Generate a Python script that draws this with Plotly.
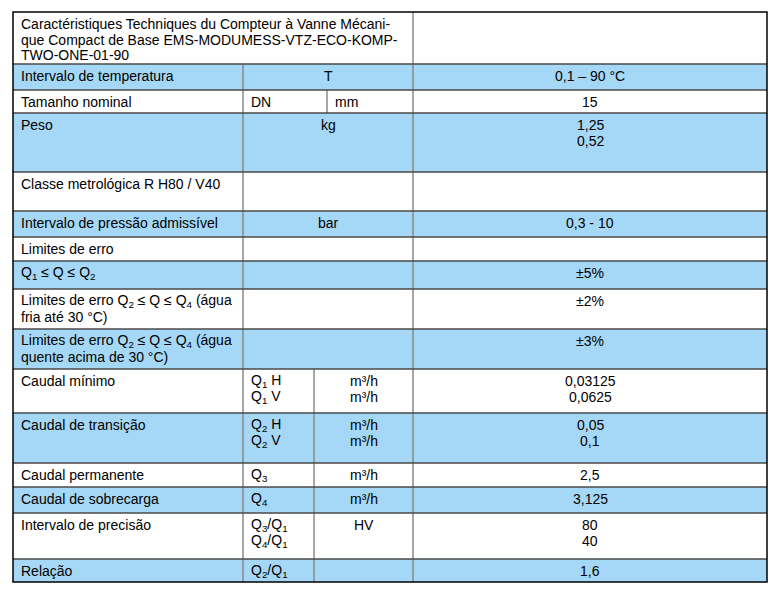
import plotly.graph_objects as go

# ---------------- data ----------------
title_lines = [
    "Caractéristiques Techniques du Compteur à Vanne Mécani-",
    "que Compact de Base EMS-MODUMESS-VTZ-ECO-KOMP-",
    "TWO-ONE-01-90",
]
row_labels = [
    ["Intervalo de temperatura"],
    ["Tamanho nominal"],
    ["Peso"],
    ["Classe metrológica R H80 / V40"],
    ["Intervalo de pressão admissível"],
    ["Limites de erro"],
    ["Q<sub>1</sub> ≤ Q ≤ Q<sub>2</sub>"],
    ["Limites de erro Q<sub>2</sub> ≤ Q ≤ Q<sub>4</sub> (água", "fria até 30 °C)"],
    ["Limites de erro Q<sub>2</sub> ≤ Q ≤ Q<sub>4</sub> (água", "quente acima de 30 °C)"],
    ["Caudal mínimo"],
    ["Caudal de transição"],
    ["Caudal permanente"],
    ["Caudal de sobrecarga"],
    ["Intervalo de precisão"],
    ["Relação"],
]
# middle column kind: "span" = merged unit cell, "dn" = DN|mm split, "q" = symbol|unit split
mid_kind = ["span", "dn", "span", "span", "span", "span", "span", "span", "span",
            "q", "q", "q", "q", "q", "q"]
symbols = [
    [], ["DN"], [], [], [], [], [], [], [],
    ["Q<sub>1</sub> H", "Q<sub>1</sub> V"],
    ["Q<sub>2</sub> H", "Q<sub>2</sub> V"],
    ["Q<sub>3</sub>"],
    ["Q<sub>4</sub>"],
    ["Q<sub>3</sub>/Q<sub>1</sub>", "Q<sub>4</sub>/Q<sub>1</sub>"],
    ["Q<sub>2</sub>/Q<sub>1</sub>"],
]
units = [
    ["T"], ["mm"], ["kg"], [], ["bar"], [], [], [], [],
    ["m³/h", "m³/h"],
    ["m³/h", "m³/h"],
    ["m³/h"],
    ["m³/h"],
    ["HV"],
    [],
]
values = [
    ["0,1 – 90 °C"], ["15"], ["1,25", "0,52"], [], ["0,3 - 10"], [], ["±5%"],
    ["±2%"], ["±3%"], ["0,03125", "0,0625"], ["0,05", "0,1"], ["2,5"], ["3,125"],
    ["80", "40"], ["1,6"],
]

# ---------------- layout geometry (pixels, page coordinates) ----------------
W, H = 781, 597
BODY = 8  # default page margin around the plot div
X0, X_LAB, X_DN, X_Q, X_VAL, X1 = 13, 243, 327, 314, 413, 767
row_edges = [12, 64, 90, 113, 172, 211, 237, 261, 289, 329, 369, 413, 463, 487, 513, 559, 582]
PAD_X = 6
FIRST = 12
LH = 15.5
BLUE = "#a5d8f6"
FONT = dict(family="Liberation Sans, Arial, sans-serif", size=14, color="#000000")

fig = go.Figure()
shapes = []
annotations = []


def add_lines(lines, x, y_top, align):
    for i, t in enumerate(lines):
        annotations.append(dict(
            x=x, y=y_top + FIRST + i * LH, xref="x", yref="y", text=t,
            showarrow=False, xanchor=align, yanchor="middle", font=FONT,
        ))


def vline(x, y0, y1, color="#8a8a8a", w=1.5):
    shapes.append(dict(type="line", x0=x, x1=x, y0=y0, y1=y1, xref="x", yref="y",
                       line=dict(color=color, width=w)))


# backgrounds
for r in range(len(row_edges) - 1):
    fill = BLUE if r % 2 == 1 else "#ffffff"
    shapes.append(dict(type="rect", x0=X0, x1=X1, y0=row_edges[r], y1=row_edges[r + 1],
                       xref="x", yref="y", fillcolor=fill, line=dict(width=0), layer="below"))

# title row
add_lines(title_lines, X0 + PAD_X, row_edges[0], "left")
vline(X_VAL, row_edges[0], row_edges[1])

# data rows
for i in range(len(row_labels)):
    y0, y1 = row_edges[i + 1], row_edges[i + 2]
    add_lines(row_labels[i], X0 + PAD_X, y0, "left")
    vline(X_LAB, y0, y1)
    vline(X_VAL, y0, y1)
    k = mid_kind[i]
    if k == "span":
        add_lines(units[i], (X_LAB + X_VAL) / 2, y0, "center")
    elif k == "dn":
        vline(X_DN, y0, y1)
        add_lines(symbols[i], X_LAB + PAD_X, y0, "left")
        add_lines(units[i], X_DN + PAD_X, y0, "left")
    else:
        vline(X_Q, y0, y1)
        add_lines(symbols[i], X_LAB + PAD_X, y0, "left")
        add_lines(units[i], (X_Q + X_VAL) / 2, y0, "center")
    add_lines(values[i], (X_VAL + X1) / 2, y0, "center")

# horizontal lines
for y in row_edges[1:-1]:
    shapes.append(dict(type="line", x0=X0, x1=X1, y0=y, y1=y, xref="x", yref="y",
                       line=dict(color="#4a4a4a", width=1.5)))

# outer border
shapes.append(dict(type="rect", x0=X0, x1=X1, y0=row_edges[0], y1=row_edges[-1],
                   xref="x", yref="y", line=dict(color="#000000", width=1.5)))

FW, FH = W - 2 * BODY, H - 2 * BODY
fig.update_layout(
    width=FW, height=FH,
    margin=dict(l=0, r=0, t=0, b=0),
    paper_bgcolor="#ffffff", plot_bgcolor="#ffffff",
    xaxis=dict(range=[BODY, BODY + FW], visible=False, fixedrange=True),
    yaxis=dict(range=[BODY + FH, BODY], visible=False, fixedrange=True),
    shapes=shapes, annotations=annotations,
    showlegend=False,
)

fig.write_html("out.html")
